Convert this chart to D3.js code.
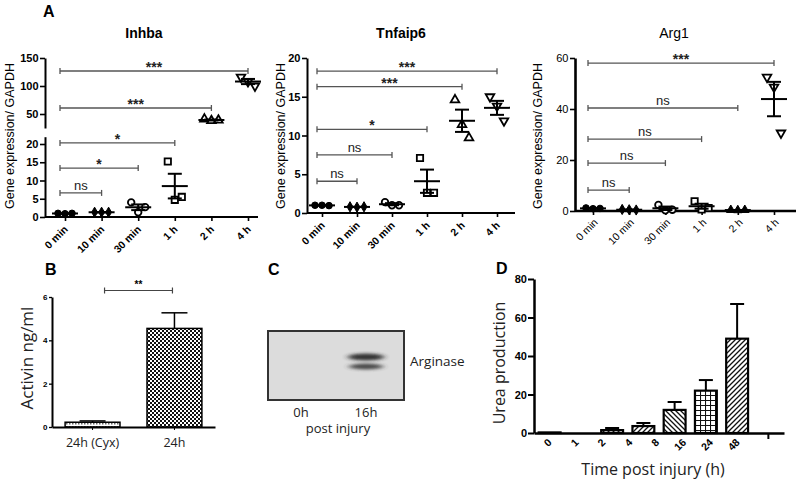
<!DOCTYPE html>
<html><head><meta charset="utf-8">
<script src="https://cdn.jsdelivr.net/npm/d3@7"></script>
<style>body{margin:0;background:#fff} svg{display:block}</style>
</head><body><svg id="c" width="796" height="483"></svg>
<script>
// ---------- DATA ----------
const groups = ["0 min","10 min","30 min","1 h","2 h","4 h"];

const inhbaValues = [[1.0,0.9,1.0],[1.3,1.3,1.3],[4.0,1.3,2.7],[15.2,4.7,5.5],[41,38,39],[116,108,100]];
const inhbaBrackets = [{to:"10 min",y:6.6,label:"ns"},{to:"30 min",y:13.4,label:"*"},{to:"1 h",y:20.3,label:"*"},{to:"2 h",y:60.7,label:"***"},{to:"4 h",y:126.8,label:"***"}];
const inhbaTicksLow = [0,5,10,15,20];
const inhbaTicksHigh = [50,100,150];

const tnfValues = [[1.0,1.0,0.95],[0.8,0.75,0.8],[1.4,1.0,1.0],[7.1,2.6,2.6],[14.6,11.4,9.7],[15.0,13.8,11.9]];
const tnfBrackets = [{to:"10 min",y:4.1,label:"ns"},{to:"30 min",y:7.5,label:"ns"},{to:"1 h",y:10.8,label:"*"},{to:"2 h",y:16.3,label:"***"},{to:"4 h",y:18.3,label:"***"}];
const tnfTicks = [0,5,10,15,20];

const argValues = [[1.2,0.9,1.0],[0.6,0.5,0.4],[2.4,0.3,0.5],[3.8,0.6,1.2],[0.4,0.3,0.4],[52.5,48.6,30.6]];
const argBrackets = [{to:"10 min",y:8.2,label:"ns"},{to:"30 min",y:18.8,label:"ns"},{to:"1 h",y:28.2,label:"ns"},{to:"2 h",y:40.4,label:"ns"},{to:"4 h",y:58.0,label:"***"}];
const argTicks = [0,20,40,60];

const activinCats = ["24h (Cyx)","24h"];
const activinValues = [0.22,4.55];
const activinErrors = [0.06,0.72];
const activinTicks = [0,2,4,6];

const ureaCats = ["0","1","2","4","8","16","24","48"];
const ureaValues = [0.3,0,1.5,3.6,12,22,49,null];
const ureaErrors = [0,0,1.1,1.6,4.1,5.5,18,null];
const ureaTicks = [0,20,40,60,80];

const blotLanes = ["0h","16h"];

// ---------- STYLE ----------
const markerShapes = ["circle","diamond","circle","square","triangle","triangleDown"];
const markerFilledA = [true,true,false,false,false,false];
const markerFilledArg = [true,true,false,false,true,false];
const ureaPatterns = ["none","none","hatchF","hatchF","hatchB","grid","hatchF","none"];
const SANS = "'Liberation Sans', Arial, sans-serif";
const OPEN = "'Open Sans', 'Noto Sans', sans-serif";

const svg = d3.select("#c");
const defs = svg.append("defs");

function pat(id, w, h, draw){ const p = defs.append("pattern").attr("id",id).attr("patternUnits","userSpaceOnUse").attr("width",w).attr("height",h); p.append("rect").attr("width",w).attr("height",h).attr("fill","#fff"); draw(p); }
pat("hatchF",5,5,p=>{p.append("path").attr("d","M-1,1 l2,-2 M0,5 l5,-5 M4,6 l2,-2").attr("stroke","#111").attr("stroke-width",1.3);});
pat("hatchB",5,5,p=>{p.append("path").attr("d","M-1,4 l2,2 M0,0 l5,5 M4,-1 l2,2").attr("stroke","#111").attr("stroke-width",1.3);});
pat("grid",5,5,p=>{p.append("path").attr("d","M0,0.5 H5 M0.5,0 V5").attr("stroke","#111").attr("stroke-width",1.1);});
pat("checker",4,4,p=>{p.append("rect").attr("width",2).attr("height",2).attr("fill","#111");p.append("rect").attr("x",2).attr("y",2).attr("width",2).attr("height",2).attr("fill","#111");});
pat("checkerLight",3,3,p=>{p.append("rect").attr("width",1.5).attr("height",1.5).attr("fill","#666");});
defs.append("filter").attr("id","blur").attr("x","-50%").attr("y","-100%").attr("width","200%").attr("height","300%")
  .append("feGaussianBlur").attr("stdDeviation","3 1.8");

function symbolFor(name){
  return {circle:d3.symbolCircle,diamond:d3.symbolDiamond,square:d3.symbolSquare,triangle:d3.symbolTriangle,triangleDown:d3.symbolTriangle}[name];
}
const symSize = {circle:34,diamond:30,square:40,triangle:32,triangleDown:32};

// ---------- PANEL A ----------
function dotPanel(o){
  const g = svg.append("g");
  const x = d3.scalePoint().domain(groups).range(o.xRange);
  const yOf = o.yOf;
  o.ySegments.forEach(s=>{
    const a = g.append("g").attr("transform",`translate(${o.x0},0)`)
      .call(d3.axisLeft(s.scale).tickValues(s.ticks).tickFormat(d3.format("d")).tickSize(5).tickSizeOuter(0).tickPadding(1.5));
    a.select(".domain").attr("stroke","#000").attr("stroke-width",o.axisW);
    a.selectAll(".tick line").attr("stroke","#000").attr("stroke-width",1.6);
    a.selectAll("text").attr("font-family",SANS).attr("font-size",11).attr("font-weight",o.bold?"bold":"normal").attr("fill","#000");
  });
  const xa = g.append("g").attr("transform",`translate(0,${o.y0})`)
    .call(d3.axisBottom(x).tickSize(4).tickSizeOuter(0));
  xa.select(".domain").remove();
  xa.append("line").attr("x1",o.axisX[0]).attr("x2",o.axisX[1]).attr("stroke","#000").attr("stroke-width",o.axisW);
  xa.selectAll(".tick line").attr("stroke","#000").attr("stroke-width",1.6);
  xa.selectAll(".tick text").attr("x",0).attr("y",0).attr("dy",0)
    .attr("transform",`translate(${o.lblOff[0]},${o.lblOff[1]}) rotate(-45)`)
    .attr("text-anchor","end").attr("font-family",SANS).attr("font-size",10.5)
    .attr("font-weight",o.bold?"bold":"normal").attr("fill","#000");
  g.append("text").attr("transform",`translate(${o.titleX},${o.titleY}) rotate(-90)`)
    .attr("text-anchor","middle").attr("font-family",SANS).attr("font-size",12.5).text("Gene expression/ GAPDH");
  g.append("text").attr("x",o.nameX).attr("y",38).attr("text-anchor","middle").attr("font-family",SANS)
    .attr("font-size",14).attr("font-weight",o.bold?"bold":"normal").text(o.name);
  const x0 = x(groups[0]) - 5;
  o.brackets.forEach(b=>{
    const yy = yOf(b.y), x1 = x(b.to);
    const bg = g.append("g").attr("stroke","#555").attr("stroke-width",1.3);
    bg.append("line").attr("x1",x0).attr("x2",x1).attr("y1",yy).attr("y2",yy);
    bg.append("line").attr("x1",x0).attr("x2",x0).attr("y1",yy-3).attr("y2",yy+3);
    bg.append("line").attr("x1",x1).attr("x2",x1).attr("y1",yy-3).attr("y2",yy+3);
    const star = b.label !== "ns";
    g.append("text").attr("x",(x0+x1)/2).attr("y",star? yy+1 : yy-3).attr("text-anchor","middle")
      .attr("font-family",SANS).attr("font-size",star?14:13).attr("font-weight",star?"bold":"normal")
      .attr("fill","#222").text(b.label);
  });
  const offs = [-7,0,7];
  o.values.forEach((vals,i)=>{
    const cx = x(groups[i]);
    const m = d3.mean(vals), se = d3.deviation(vals)/Math.sqrt(vals.length);
    const filled = o.filled[i];
    const shape = markerShapes[i];
    const sym = d3.symbol().type(symbolFor(shape)).size(symSize[shape]);
    vals.forEach((v,j)=>{
      g.append("path").attr("d",sym())
        .attr("transform",`translate(${cx+offs[j]},${yOf(v)})${shape==="triangleDown"?" rotate(180)":""}`)
        .attr("fill",filled?"#000":"#fff").attr("stroke","#000").attr("stroke-width",filled?1:1.8);
    });
    const lg = g.append("g").attr("stroke","#000").attr("stroke-width",2);
    lg.append("line").attr("x1",cx-13).attr("x2",cx+13).attr("y1",yOf(m)).attr("y2",yOf(m));
    lg.append("line").attr("x1",cx).attr("x2",cx).attr("y1",yOf(m-se)).attr("y2",yOf(m+se));
    lg.append("line").attr("x1",cx-7).attr("x2",cx+7).attr("y1",yOf(m-se)).attr("y2",yOf(m-se));
    lg.append("line").attr("x1",cx-7).attr("x2",cx+7).attr("y1",yOf(m+se)).attr("y2",yOf(m+se));
  });
}

const inLow = d3.scaleLinear().domain([0,22]).range([217,136.7]);
const inHigh = d3.scaleLinear().domain([25,150]).range([128,58]);
dotPanel({name:"Inhba",nameX:144,bold:true,x0:45,y0:217,axisX:[45,258],xRange:[65,248],axisW:2,
  ySegments:[{scale:inLow,ticks:inhbaTicksLow},{scale:inHigh,ticks:inhbaTicksHigh}],
  yOf:v=> v<=22? inLow(v) : inHigh(v), values:inhbaValues, brackets:inhbaBrackets, filled:markerFilledA,
  titleX:14,titleY:136,lblOff:[3,13]});
const tnfY = d3.scaleLinear().domain([0,20]).range([213,58]);
dotPanel({name:"Tnfaip6",nameX:401,bold:true,x0:307,y0:213,axisX:[307,515],xRange:[322,497],axisW:2,
  ySegments:[{scale:tnfY,ticks:tnfTicks}], yOf:tnfY, values:tnfValues, brackets:tnfBrackets, filled:markerFilledA,
  titleX:285,titleY:136,lblOff:[3,13]});
const argY = d3.scaleLinear().domain([0,60]).range([211,58]);
dotPanel({name:"Arg1",nameX:674,bold:false,x0:575,y0:211,axisX:[575,796],xRange:[593,774],axisW:2.6,
  ySegments:[{scale:argY,ticks:argTicks}], yOf:argY, values:argValues, brackets:argBrackets, filled:markerFilledArg,
  titleX:542,titleY:136,lblOff:[5,12]});

[["A",43,17],["B",45,275],["C",268,275],["D",496,274]].forEach(([t,x,y])=>{
  svg.append("text").attr("x",x).attr("y",y).attr("font-family",SANS).attr("font-size",16).attr("font-weight","bold").text(t);
});

// ---------- PANEL B ----------
{
  const g = svg.append("g");
  const x = d3.scaleBand().domain(activinCats).range([52,215]).paddingInner(0.33).paddingOuter(0.16);
  const y = d3.scaleLinear().domain([0,6]).range([427,297]);
  const ya = g.append("g").attr("transform","translate(52,0)").call(d3.axisLeft(y).tickValues(activinTicks).tickFormat(d3.format("d")).tickSize(3).tickSizeOuter(0).tickPadding(1.5));
  ya.select(".domain").attr("stroke-width",2);
  ya.selectAll(".tick line").attr("stroke-width",1.3);
  ya.selectAll("text").attr("font-family",SANS).attr("font-size",8).attr("font-weight","bold");
  const pats = ["url(#checkerLight)","url(#checker)"];
  activinCats.forEach((c,i)=>{
    const v = activinValues[i], e = activinErrors[i], cx = x(c)+x.bandwidth()/2;
    g.append("line").attr("x1",cx).attr("x2",cx).attr("y1",y(v)).attr("y2",y(v+e)).attr("stroke","#000").attr("stroke-width",1.5);
    g.append("line").attr("x1",cx-13).attr("x2",cx+13).attr("y1",y(v+e)).attr("y2",y(v+e)).attr("stroke","#000").attr("stroke-width",1.5);
    g.append("rect").attr("x",x(c)).attr("width",x.bandwidth()).attr("y",y(v)).attr("height",y(0)-y(v))
      .attr("fill",pats[i]).attr("stroke","#000").attr("stroke-width",1.5);
  });
  const xa = g.append("g").attr("transform","translate(0,427)").call(d3.axisBottom(x).tickSize(3).tickSizeOuter(0));
  xa.select(".domain").attr("stroke-width",2);
  xa.selectAll("text").attr("y",20).attr("dy",0).attr("font-family",OPEN).attr("font-size",12.5).attr("fill","#222");
  g.append("text").attr("transform","translate(33,358) rotate(-90)").attr("text-anchor","middle")
    .attr("font-family",OPEN).attr("font-size",17).attr("fill","#222").text("Activin ng/ml");
  const bx0 = x(activinCats[0])+x.bandwidth()/2+12, bx1 = x(activinCats[1])+x.bandwidth()/2-2, by = y(6.3);
  const bg = g.append("g").attr("stroke","#444").attr("stroke-width",1.2);
  bg.append("line").attr("x1",bx0).attr("x2",bx1).attr("y1",by).attr("y2",by);
  bg.append("line").attr("x1",bx0).attr("x2",bx0).attr("y1",by-3).attr("y2",by+3);
  bg.append("line").attr("x1",bx1).attr("x2",bx1).attr("y1",by-3).attr("y2",by+3);
  g.append("text").attr("x",(bx0+bx1)/2).attr("y",by-3).attr("text-anchor","middle").attr("font-family",SANS)
    .attr("font-size",10).attr("font-weight","bold").text("**");
}

// ---------- PANEL C ----------
{
  const g = svg.append("g");
  const lx = d3.scalePoint().domain(blotLanes).range([301,366]);
  g.append("rect").attr("x",268).attr("y",331).attr("width",136).attr("height",69).attr("fill","#dcdcdc").attr("stroke","#333").attr("stroke-width",2);
  const bx = lx("16h");
  g.append("ellipse").attr("cx",bx).attr("cy",357).attr("rx",18).attr("ry",3.5).attr("fill","#222").attr("opacity",0.9).attr("filter","url(#blur)");
  g.append("ellipse").attr("cx",bx).attr("cy",366.5).attr("rx",17).attr("ry",3).attr("fill","#333").attr("opacity",0.85).attr("filter","url(#blur)");
  g.append("text").attr("x",410).attr("y",366).attr("font-family",OPEN).attr("font-size",13.5).attr("fill","#222").text("Arginase");
  blotLanes.forEach(l=> g.append("text").attr("x",lx(l)).attr("y",417).attr("text-anchor","middle").attr("font-family",OPEN).attr("font-size",13).attr("fill","#222").text(l));
  g.append("text").attr("x",338).attr("y",433).attr("text-anchor","middle").attr("font-family",OPEN).attr("font-size",13).attr("fill","#222").text("post injury");
}

// ---------- PANEL D ----------
{
  const g = svg.append("g");
  const x = d3.scaleBand().domain(ureaCats).range([534,784]).paddingInner(0.3).paddingOuter(0.15);
  const xl = d3.scalePoint().domain(ureaCats).range([552,740]);
  const y = d3.scaleLinear().domain([0,80]).range([433,279]);
  ureaCats.forEach((c,i)=>{
    const v = ureaValues[i]; if (v==null) return;
    const e = ureaErrors[i], cx = x(c)+x.bandwidth()/2;
    if (e>0){
      g.append("line").attr("x1",cx).attr("x2",cx).attr("y1",y(v)).attr("y2",y(v+e)).attr("stroke","#000").attr("stroke-width",2);
      g.append("line").attr("x1",cx-7).attr("x2",cx+7).attr("y1",y(v+e)).attr("y2",y(v+e)).attr("stroke","#000").attr("stroke-width",2);
    }
    if (v>0){
      const p = ureaPatterns[i];
      g.append("rect").attr("x",x(c)).attr("width",x.bandwidth()).attr("y",y(v)).attr("height",y(0)-y(v))
        .attr("fill",p==="none"?"#fff":`url(#${p})`).attr("stroke","#000").attr("stroke-width",2.2);
    }
  });
  const ya = g.append("g").attr("transform","translate(534,0)").call(d3.axisLeft(y).tickValues(ureaTicks).tickFormat(d3.format("d")).tickSize(6).tickSizeOuter(0).tickPadding(1));
  ya.select(".domain").attr("stroke-width",2.5);
  ya.selectAll(".tick line").attr("stroke-width",2);
  ya.selectAll("text").attr("font-family",SANS).attr("font-size",11).attr("font-weight","bold");
  const xa = g.append("g").attr("transform","translate(0,433)")
    .call(d3.axisBottom(x).tickValues([ureaCats[ureaCats.length-1]]).tickSize(6).tickSizeOuter(0).tickFormat(""));
  xa.select(".domain").attr("stroke-width",2.5);
  xa.selectAll(".tick line").attr("stroke-width",2);
  const la = g.append("g").attr("transform","translate(0,433)").call(d3.axisBottom(xl).tickSize(0));
  la.select(".domain").remove();
  la.selectAll("text").attr("x",0).attr("y",0).attr("dy",0).attr("transform","translate(0,10) rotate(-45)")
    .attr("text-anchor","end").attr("font-family",SANS).attr("font-size",10.5).attr("font-weight","bold");
  g.append("text").attr("x",653).attr("y",475).attr("text-anchor","middle").attr("font-family",OPEN).attr("font-size",16).attr("fill","#222").text("Time post injury (h)");
  g.append("text").attr("transform","translate(505,363) rotate(-90)").attr("text-anchor","middle").attr("font-family",OPEN).attr("font-size",16).attr("fill","#222").text("Urea production");
}
</script></body></html>
